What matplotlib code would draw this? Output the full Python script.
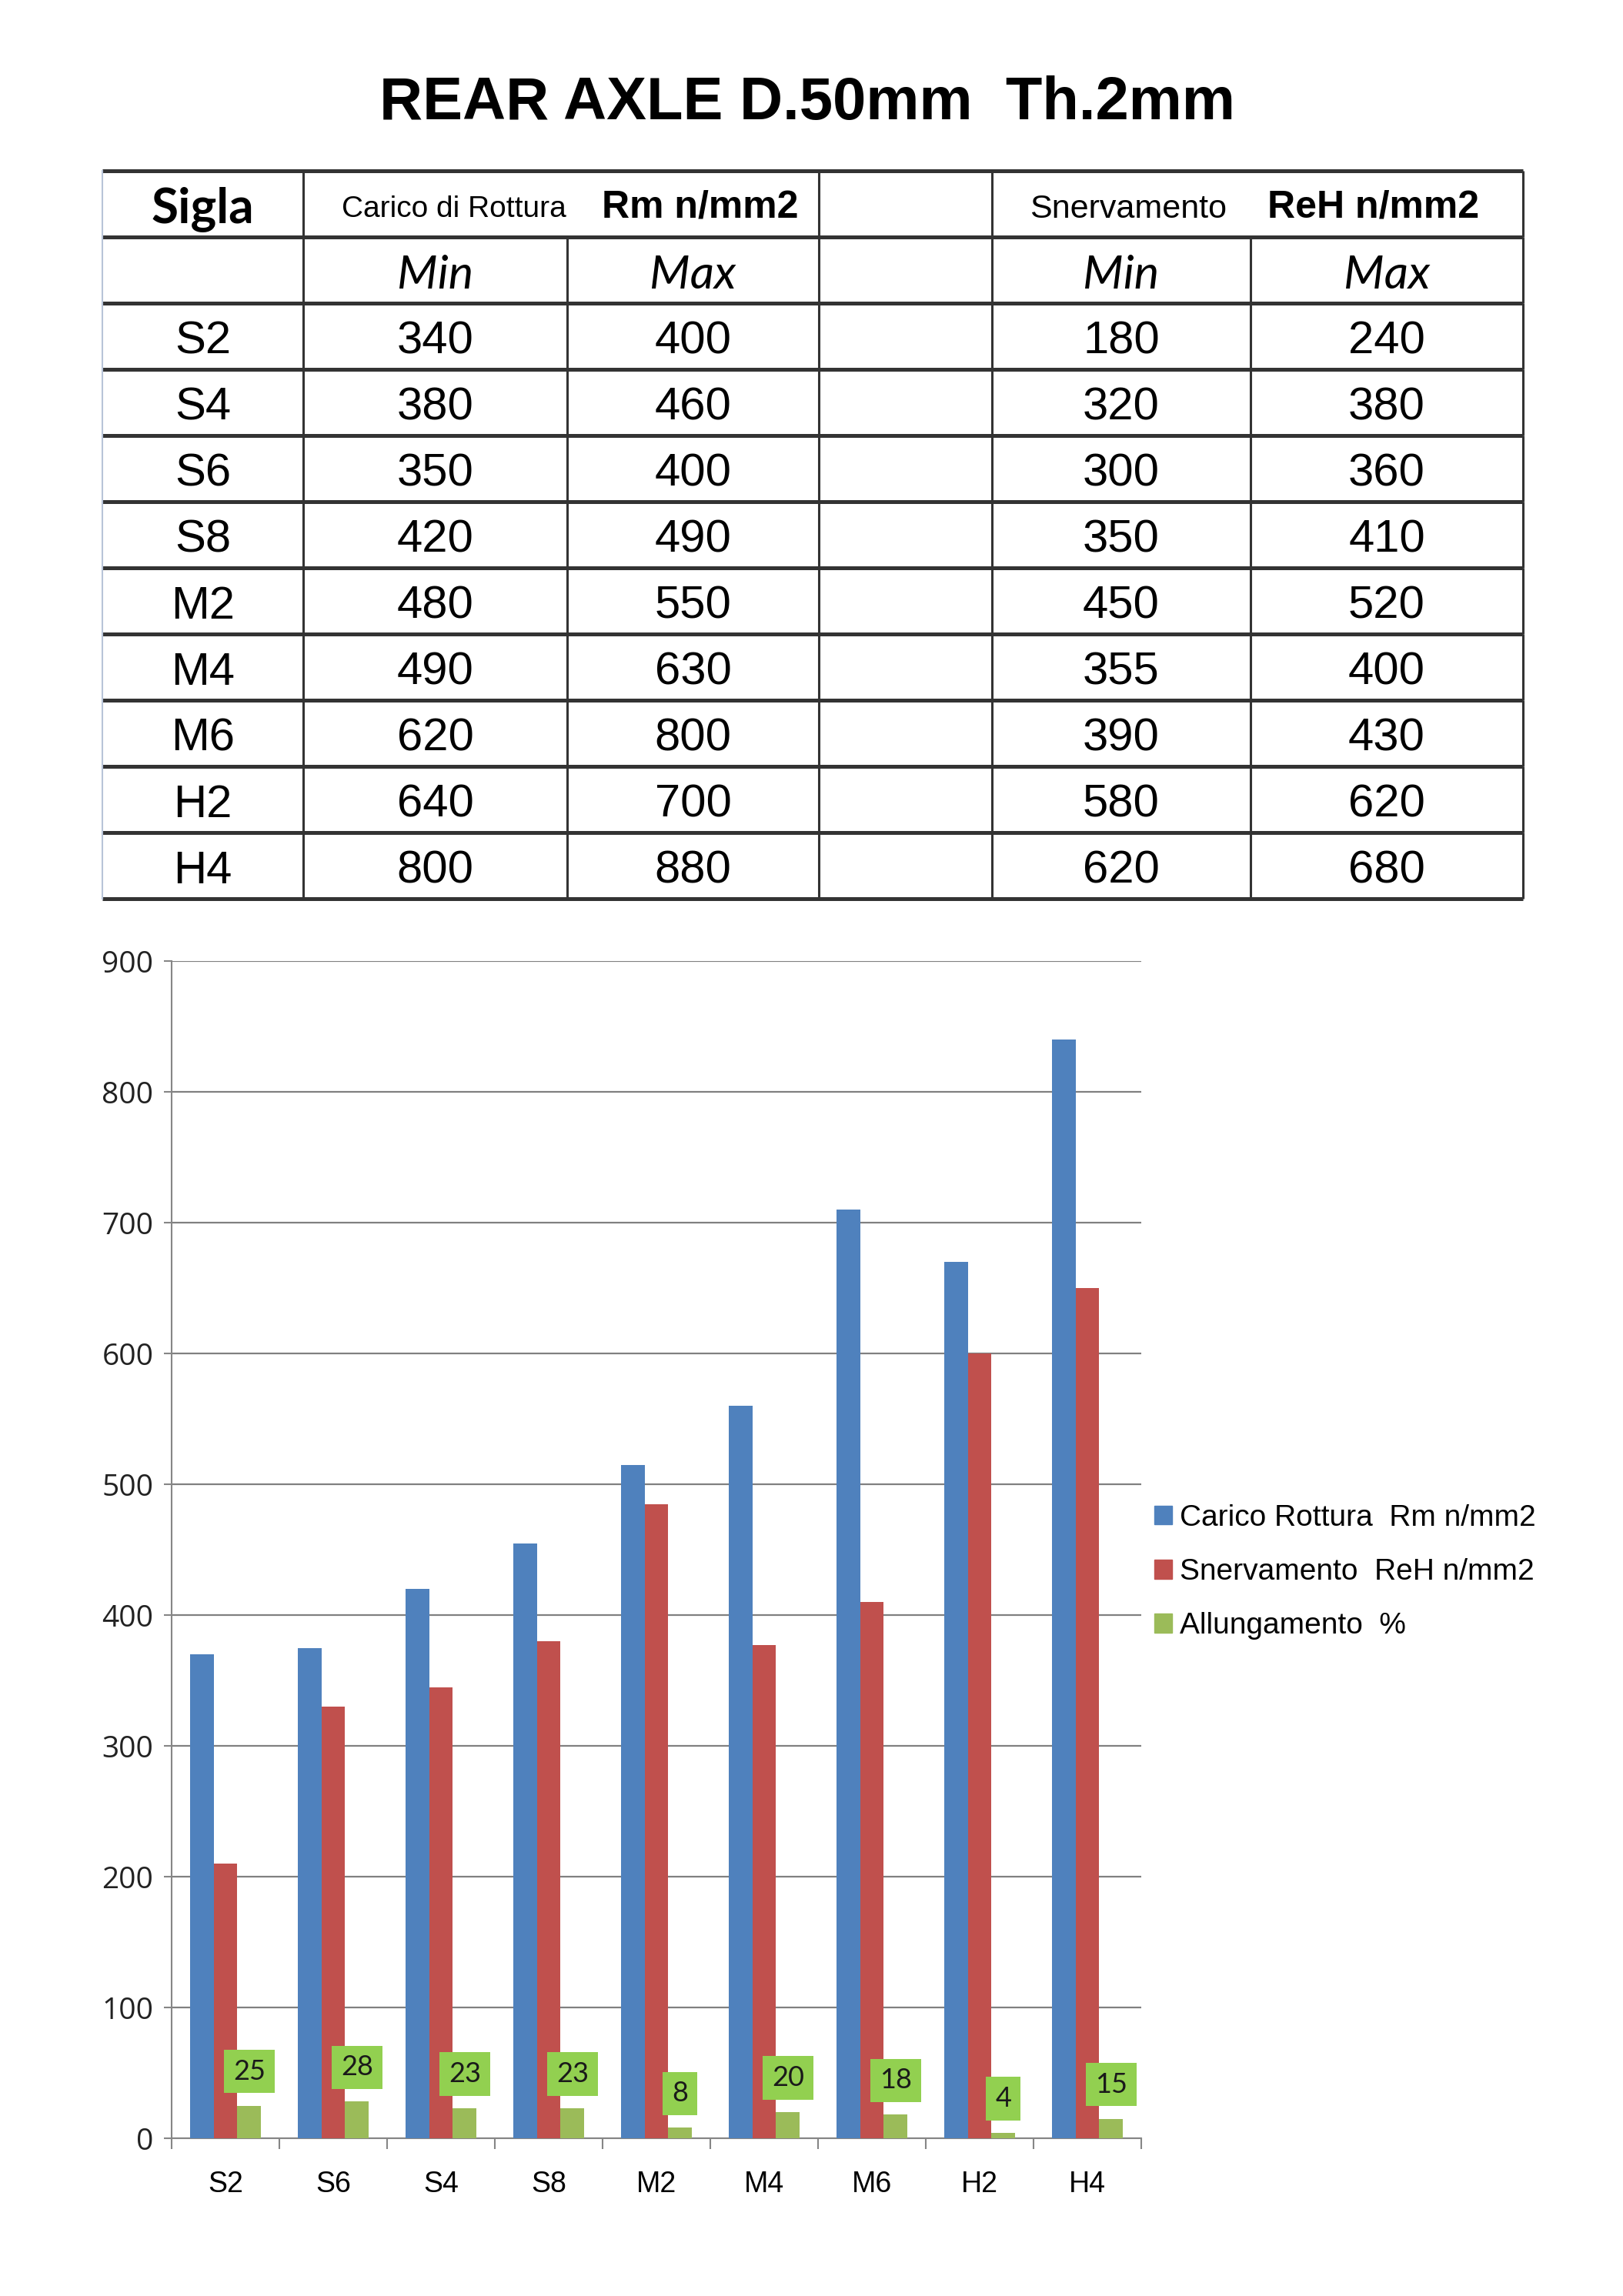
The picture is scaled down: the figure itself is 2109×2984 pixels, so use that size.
import numpy as np
import matplotlib
matplotlib.use("Agg")
import matplotlib.pyplot as plt
from matplotlib.patches import Patch

# ---------------- data
title = "REAR AXLE D.50mm  Th.2mm"

tab_sigla = ["S2", "S4", "S6", "S8", "M2", "M4", "M6", "H2", "H4"]
tab_rm_min = [340, 380, 350, 420, 480, 490, 620, 640, 800]
tab_rm_max = [400, 460, 400, 490, 550, 630, 800, 700, 880]
tab_reh_min = [180, 320, 300, 350, 450, 355, 390, 580, 620]
tab_reh_max = [240, 380, 360, 410, 520, 400, 430, 620, 680]

categories = ["S2", "S6", "S4", "S8", "M2", "M4", "M6", "H2", "H4"]
carico = [370, 375, 420, 455, 515, 560, 710, 670, 840]
snerv = [210, 330, 345, 380, 485, 377, 410, 600, 650]
allung = [25, 28, 23, 23, 8, 20, 18, 4, 15]

series_names = ["Carico Rottura  Rm n/mm2", "Snervamento  ReH n/mm2", "Allungamento  %"]
series_colors = ["#4F81BD", "#C0504D", "#9BBB59"]
yticks = [0, 100, 200, 300, 400, 500, 600, 700, 800, 900]

# ---------------- figure
W, H = 2109, 2984
fig = plt.figure(figsize=(W / 100, H / 100), dpi=100)
fig.patch.set_facecolor("white")

# page layer in pixel coords (title + table)
pg = fig.add_axes([0, 0, 1, 1])
pg.set_xlim(0, W)
pg.set_ylim(H, 0)
pg.axis("off")

pg.text(1049, 135, title, ha="center", va="center", fontsize=56,
        fontweight="bold", family="Liberation Sans")

col_x = [133, 394, 737, 1064, 1289, 1625, 1979]
row_top = 222
row_h = 86
n_rows = 11
line_c = "#333333"

for i in range(n_rows + 1):
    y = row_top + i * row_h
    pg.plot([col_x[0], col_x[-1]], [y, y], color=line_c, lw=3.6,
            solid_capstyle="butt")
for j, x in enumerate(col_x):
    if j == 0:
        pg.plot([x, x], [row_top, row_top + n_rows * row_h], color="#b8c4d8", lw=1.5)
        continue
    for i in range(n_rows):
        if i == 0 and x in (737, 1625):
            continue
        pg.plot([x, x], [row_top + i * row_h, row_top + (i + 1) * row_h],
                color=line_c, lw=2.2, solid_capstyle="butt")

centers = [(col_x[k] + col_x[k + 1]) / 2 for k in range(6)]
dy = 7  # text sits a little low in the cells
yh = row_top + row_h / 2 + dy
pg.text(centers[0], yh, "Sigla", ha="center", va="center", fontsize=46,
        fontweight="bold", family="Lato")
pg.text(590, yh, "Carico di Rottura", ha="center", va="center", fontsize=28,
        family="Liberation Sans")
pg.text(910, yh - 2, "Rm n/mm2", ha="center", va="center", fontsize=36,
        fontweight="bold", family="Liberation Sans")
pg.text(1466, yh, "Snervamento", ha="center", va="center", fontsize=31,
        family="Liberation Sans")
pg.text(1785, yh - 2, "ReH n/mm2", ha="center", va="center", fontsize=36,
        fontweight="bold", family="Liberation Sans")

y2 = row_top + row_h * 1.5 + dy
for k, lab in zip([1, 2, 4, 5], ["Min", "Max", "Min", "Max"]):
    pg.text(centers[k], y2, lab, ha="center", va="center", fontsize=44,
            style="italic", family="Lato")

for i in range(len(tab_sigla)):
    yc = row_top + row_h * (i + 2.5) + dy
    vals = [tab_sigla[i], tab_rm_min[i], tab_rm_max[i], None, tab_reh_min[i], tab_reh_max[i]]
    for k, v in enumerate(vals):
        if v is None:
            continue
        pg.text(centers[k], yc, str(v), ha="center", va="center", fontsize=43,
                family="Liberation Sans")

# ---------------- bar chart
ax_l, ax_r = 223 / W, 1483 / W
ax_b, ax_t = 1 - 2779 / H, 1 - 1249 / H
ax = fig.add_axes([ax_l, ax_b, ax_r - ax_l, ax_t - ax_b])

x = np.arange(len(categories))
bw = 0.22
ax.bar(x - bw, carico, bw, color=series_colors[0], zorder=3)
ax.bar(x, snerv, bw, color=series_colors[1], zorder=3)
ax.bar(x + bw, allung, bw, color=series_colors[2], zorder=3)

for xi, v in zip(x, allung):
    ax.annotate(str(v), xy=(xi + bw, v), xytext=(0, 32), textcoords="offset points",
                ha="center", va="center", fontsize=26, family="Lato", color="#1a1a1a",
                bbox=dict(boxstyle="square,pad=0.33", fc="#92D050", ec="none"),
                zorder=5)

ax.set_xlim(-0.5, len(categories) - 0.5)
ax.set_ylim(0, 900)
ax.set_yticks(yticks)
ax.set_xticks(x)
ax.set_xticklabels(categories, family="Liberation Sans", fontsize=27)
ax.set_xticks(np.arange(-0.5, len(categories), 1.0), minor=True)
ax.tick_params(axis="x", which="major", length=0, pad=30)
ax.tick_params(axis="x", which="minor", length=10, width=1.5, color="#868686")
ax.tick_params(axis="y", length=7, width=1.5, color="#868686", pad=10, labelsize=28)
for t in ax.get_yticklabels():
    t.set_family("Open Sans")
    t.set_color("#222222")
ax.yaxis.grid(True, color="#808080", lw=1.6, zorder=0)
ax.set_axisbelow(True)
for s in ["top", "right"]:
    ax.spines[s].set_visible(False)
for s in ["left", "bottom"]:
    ax.spines[s].set_color("#868686")
    ax.spines[s].set_linewidth(1.5)

handles = [Patch(color=c) for c in series_colors]
fig.legend(handles, series_names, loc="center left",
           bbox_to_anchor=(1500 / W, 1 - 2043 / H), frameon=False,
           prop={"family": "Liberation Sans", "size": 28},
           handlelength=0.6, handleheight=0.6, handletextpad=0.25,
           labelspacing=0.88, borderpad=0, borderaxespad=0)

fig.savefig("out.png", dpi=100, facecolor="white")
